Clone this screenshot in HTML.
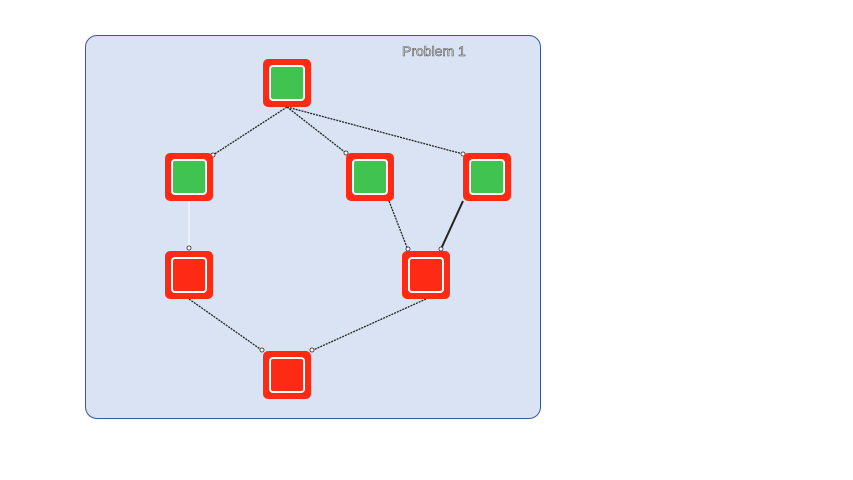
<!DOCTYPE html>
<html><head><style>
body{margin:0;width:853px;height:480px;background:#fff;position:relative;overflow:hidden;font-family:"Liberation Sans",sans-serif}
.box{position:absolute;left:85px;top:35px;width:454px;height:382px;background:#dae3f3;border:1px solid #3a55a0;border-radius:12px}
.n{position:absolute;width:48px;height:48px;background:#ff2a14;border-radius:5px}
.n i{position:absolute;left:6px;top:6px;width:32px;height:32px;border:2px solid #fff;border-radius:4px}
.g i{background:#40c351}
.t{position:absolute;left:402px;top:43px;font-size:14px;color:#f4f4f4;-webkit-text-stroke:0.6px #555}
svg{position:absolute;left:0;top:0}
</style></head><body>
<div class="box"></div>
<div class="t">Problem 1</div>
<svg width="853" height="480">
<g stroke="#222" stroke-width="1.3" stroke-dasharray="2,1" fill="#fff">
<line x1="287" y1="107" x2="213" y2="155"/>
<line x1="287" y1="107" x2="346" y2="153"/>
<line x1="287" y1="107" x2="463" y2="154"/>
<line x1="389" y1="201" x2="408" y2="250"/>
<line x1="189" y1="299" x2="263" y2="351"/>
<line x1="426" y1="299" x2="311" y2="351"/>
</g>
<line x1="189" y1="201" x2="189" y2="248" stroke="#fff" stroke-width="1"/>
<line x1="463" y1="201" x2="441" y2="249" stroke="#222" stroke-width="2"/>
<g fill="#fff" stroke="#222" stroke-width="0.8">
<circle cx="213" cy="155" r="2"/><circle cx="346" cy="153" r="2"/><circle cx="463" cy="154" r="2"/>
<circle cx="408" cy="249" r="2"/><circle cx="441" cy="249" r="2"/><circle cx="189" cy="248" r="2"/>
<circle cx="262" cy="350" r="2"/><circle cx="312" cy="350" r="2"/>
</g>
</svg>
<div class="n g" style="left:263px;top:59px"><i></i></div>
<div class="n g" style="left:165px;top:153px"><i></i></div>
<div class="n g" style="left:346px;top:153px"><i></i></div>
<div class="n g" style="left:463px;top:153px"><i></i></div>
<div class="n" style="left:165px;top:251px"><i></i></div>
<div class="n" style="left:402px;top:251px"><i></i></div>
<div class="n" style="left:263px;top:351px"><i></i></div>
</body></html>
